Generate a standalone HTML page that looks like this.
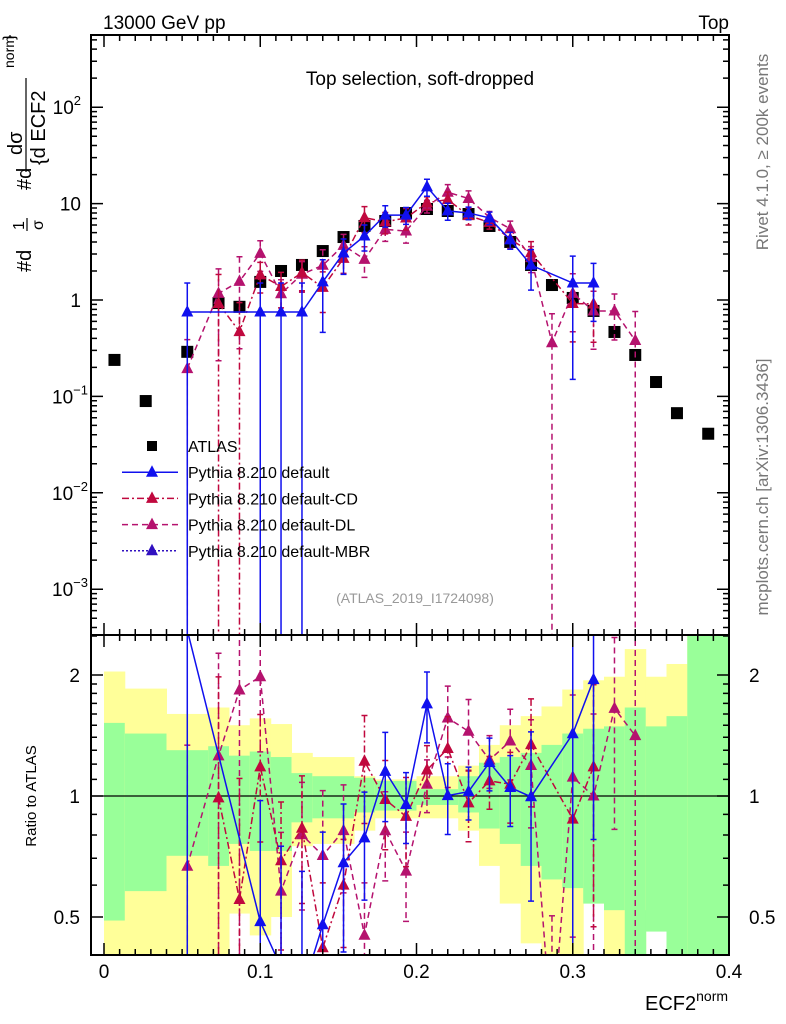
<!DOCTYPE html>
<html><head><meta charset="utf-8"><style>
html,body{margin:0;padding:0;background:#fff;overflow:hidden;width:786px;height:1024px;}
svg{display:block;font-family:"Liberation Sans",sans-serif;}
</style></head><body>
<svg id="chart" width="786" height="1024" viewBox="0 0 786 1024" xmlns="http://www.w3.org/2000/svg">
<defs>
<clipPath id="cm"><rect x="91" y="35" width="638" height="600"/></clipPath>
<clipPath id="cr"><rect x="91" y="635" width="638" height="320"/></clipPath>
</defs>
<rect width="786" height="1024" fill="#fff"/>
<g id="bands" clip-path="url(#cr)"></g>
<g id="main" clip-path="url(#cm)"></g>
<g id="ratio" clip-path="url(#cr)"></g>
<g id="axes"></g>
<text x="103" y="29" font-size="19">13000 GeV pp</text>
<text x="729" y="29" font-size="19" text-anchor="end">Top</text>
<text x="420" y="85" font-size="19" text-anchor="middle">Top selection, soft-dropped</text>
<text x="415" y="603" font-size="14" fill="#999" text-anchor="middle">(ATLAS_2019_I1724098)</text>
<text transform="translate(768,152) rotate(-90)" font-size="17" fill="#777" text-anchor="middle">Rivet 4.1.0, ≥ 200k events</text>
<text transform="translate(768,487) rotate(-90)" font-size="17" fill="#777" text-anchor="middle">mcplots.cern.ch [arXiv:1306.3436]</text>
<g font-size="20">
<text transform="translate(31,272) rotate(-90)">#d</text>
<text transform="translate(24,230) rotate(-90)" font-size="16">1</text>
<line x1="27" y1="231" x2="27" y2="218" stroke="#000" stroke-width="1.2"/>
<text transform="translate(43,230) rotate(-90)" font-size="16">σ</text>
<text transform="translate(31,190) rotate(-90)">#d</text>
<text transform="translate(22,155) rotate(-90)">dσ</text>
<line x1="26" y1="172" x2="26" y2="78" stroke="#000" stroke-width="1.2"/>
<text transform="translate(45,165) rotate(-90)">{d ECF2</text>
<text transform="translate(14,68) rotate(-90)" font-size="14">norm</text>
<text transform="translate(14,40) rotate(-90)" font-size="16">}</text>
</g>
<text transform="translate(36,796) rotate(-90)" font-size="15" text-anchor="middle">Ratio to ATLAS</text>
<text x="645" y="1010" font-size="20">ECF2<tspan font-size="14" dy="-9">norm</tspan></text>
<g id="legend" font-size="16"></g>
</svg>
<script>
const xs=[0.0067,0.0267,0.0533,0.0733,0.0867,0.1,0.1133,0.1267,0.14,0.1533,0.1667,0.18,0.1933,0.2067,0.22,0.2333,0.2467,0.26,0.2733,0.2867,0.3,0.3133,0.3267,0.34,0.3533,0.3667,0.3867];
const atlas=[0.239,0.0895,0.29,0.93,0.85,1.54,2.0,2.31,3.22,4.5,5.86,6.6,7.98,8.79,8.38,7.8,5.86,4.0,2.31,1.43,1.05,0.77,0.466,0.269,0.141,0.067,0.041];
const pyDef=[null,null,0.75,null,null,0.75,0.75,0.75,1.54,3.07,4.61,7.6,7.6,14.9,8.4,8.0,7.1,4.2,2.3,null,1.5,1.5,null,null,null,null,null];
const pyDefErr=[0,0,1,0,0,1,1,1,0.7,0.4,0.3,0.25,0.2,0.2,0.2,0.15,0.15,0.2,0.45,0,0.9,0.6,0,0,0,0,0];
const pyCD=[null,null,null,0.92,0.47,1.82,1.38,1.92,1.35,2.7,7.15,6.47,7.1,10.2,11.0,7.5,6.39,4.28,3.1,null,0.92,0.91,null,null,null,null,null];
const pyCDErr=[0,0,0,1,1,0.35,0.4,0.35,0.45,0.3,0.3,0.25,0.25,0.15,0.2,0.2,0.15,0.2,0.3,0,0.6,0.6,0,0,0,0,0];
const pyDL=[null,null,0.194,1.17,1.56,3.05,1.16,1.85,2.29,3.69,2.64,5.41,5.19,9.4,13.1,11.3,7.2,5.48,2.75,0.36,1.17,0.77,0.77,0.38,null,null,null];
const pyDLErr=[0,0,1,0.8,0.8,0.35,0.4,0.35,0.45,0.3,0.35,0.25,0.25,0.15,0.2,0.2,0.15,0.2,0.3,1,0.6,0.6,0.5,1,0,0,0];
const bandEdges=[0,0.0133,0.04,0.0667,0.08,0.0933,0.1067,0.12,0.1333,0.16,0.1733,0.2,0.2267,0.24,0.2533,0.2667,0.28,0.2933,0.3067,0.32,0.3333,0.3467,0.36,0.3733,0.4];
const yelHi=[2.04,1.85,1.60,1.66,1.50,1.56,1.51,1.28,1.25,1.12,1.10,1.12,1.19,1.34,1.50,1.58,1.67,1.84,1.94,1.98,2.32,1.98,2.13,3];
const yelLo=[0.4,0.4,0.4,0.4,0.51,0.45,0.50,0.75,0.76,0.82,0.88,0.88,0.82,0.67,0.54,0.43,0.4,0.4,0.54,0.4,0.4,0.52,0.4,0.4];
const greHi=[1.52,1.43,1.30,1.33,1.26,1.29,1.25,1.14,1.12,1.11,1.09,1.04,1.12,1.21,1.25,1.28,1.34,1.43,1.47,1.49,1.66,1.49,1.58,2.6];
const greLo=[0.49,0.58,0.71,0.67,0.76,0.73,0.73,0.86,0.88,0.91,0.92,0.95,0.91,0.83,0.76,0.67,0.62,0.59,0.54,0.52,0.4,0.46,0.4,0.4];
const xTicks=[0,0.1,0.2,0.3,0.4];
const xTickLabels=["0","0.1","0.2","0.3","0.4"];

const NS="http://www.w3.org/2000/svg";
const X=v=>104+v*1562.5;
const Y=v=>300-96.4*Math.log10(v);
const R=r=>796-402*Math.log10(r);
const clampY=(y,lo,hi)=>Math.max(lo,Math.min(hi,y));
function mk(tag,attrs,parent){const e=document.createElementNS(NS,tag);for(const k in attrs)e.setAttribute(k,attrs[k]);parent.appendChild(e);return e;}
const gB=document.getElementById('bands'),gM=document.getElementById('main'),gR=document.getElementById('ratio'),gA=document.getElementById('axes'),gL=document.getElementById('legend');

for(let i=0;i<bandEdges.length-1;i++){
  const x0=X(bandEdges[i]),x1=X(bandEdges[i+1]);
  const yh=clampY(R(yelHi[i]),635,955),yl=clampY(R(yelLo[i]),635,955);
  let r=mk('rect',{x:x0,y:yh,width:x1-x0+0.5,height:yl-yh,fill:'#ffff99'},gB);
  
  
  const gh=clampY(R(greHi[i]),635,955),gl=clampY(R(greLo[i]),635,955);
  r=mk('rect',{x:x0,y:gh,width:x1-x0+0.5,height:gl-gh,fill:'#99ff99'},gB);
  
  
}
let one=mk('line',{x1:91,x2:729,y1:R(1),y2:R(1),stroke:'#000','stroke-width':1.3},gR);



function tri(x,y,col,g,name){const p=mk('polygon',{points:`${x},${y-7} ${x-6},${y+4.5} ${x+6},${y+4.5}`,fill:col},g);
  
  }

function series(vals,errs,col,dash,name){
  for(const [g,fy,isR,top,bot] of [[gM,Y,false,30,640],[gR,R,true,630,960]]){
    const pts=[];
    vals.forEach((v,i)=>{if(v!=null){const val=isR?v/atlas[i]:v;pts.push([X(xs[i]),fy(val),val,errs[i]]);}});
    const ln=mk('polyline',{points:pts.map(p=>p[0]+','+clampY(p[1],top-300,bot+100)).join(' '),fill:'none',stroke:col,'stroke-width':1.5,'stroke-dasharray':dash},g);
    
    
    pts.forEach(p=>{
      const e=p[3];const yt=clampY(fy(p[2]*(1+e)),top,bot);const yb=e>=1?bot:clampY(fy(p[2]*(1-e)),top,bot);
      const eb=mk('line',{x1:p[0],x2:p[0],y1:yt,y2:yb,stroke:col,'stroke-width':1.5,'stroke-dasharray':dash},g);
      
      
      const c=mk('path',{d:`M${p[0]-3},${yt}H${p[0]+3}`+(e<1?`M${p[0]-3},${yb}H${p[0]+3}`:''),stroke:col,'stroke-width':1.5},g);
      
      
    });
    pts.forEach(p=>{if(p[1]>top-10&&p[1]<bot+10)tri(p[0],p[1],col,g,name+'-point');});
  }
}
atlas.forEach((v,i)=>{const s=mk('rect',{x:X(xs[i])-6,y:Y(v)-6,width:12,height:12,fill:'#000'},gM);
  
  });
series(pyDL,pyDLErr,'#b5126e','6,4','pythia-default-dl');
series(pyCD,pyCDErr,'#c0083e','7,3,2,3','pythia-default-cd');
series(pyDef,pyDefErr,'#1010ee','','pythia-default');

for(const [y0,h] of [[35,600],[635,320]]){
  const f=mk('rect',{x:91,y:y0,width:638,height:h,fill:'none',stroke:'#000','stroke-width':2},gA);
  
  
}
let d='';
for(let k=0;k<=40;k++){const x=X(k/100);const L=(k%10==0)?12:6;
  for(const [yt,yb] of [[35,635],[635,955]]){d+=`M${x},${yt}v${L}M${x},${yb}v${-L}`;}}
for(let e=-4;e<=2;e++)for(let m=1;m<10;m++){const y=Y(m*Math.pow(10,e));if(y<35||y>635)continue;const L=m==1?12:6;d+=`M91,${y}h${L}M729,${y}h${-L}`;}
[0.4,0.5,0.6,0.7,0.8,0.9,1,1.1,1.2,1.3,1.4,1.5,1.6,1.7,1.8,1.9,2,2.5].forEach(r=>{const y=R(r);if(y<635||y>955)return;const L=(r==0.5||r==1||r==2)?12:6;d+=`M91,${y}h${L}M729,${y}h${-L}`;});
const tk=mk('path',{d:d,stroke:'#000','stroke-width':1.5,fill:'none'},gA);


xTicks.forEach((v,i)=>{const t=mk('text',{x:X(v),y:978,'font-size':19,'text-anchor':'middle'},gA);t.textContent=xTickLabels[i];
  
  });
const yLabs=[[2,'10','2'],[1,'10',''],[0,'1',''],[-1,'10','−1'],[-2,'10','−2'],[-3,'10','−3']];
yLabs.forEach(l=>{const t=mk('text',{x:81,y:Y(Math.pow(10,l[0]))+7,'font-size':19,'text-anchor':'end'},gA);
  
  
  if(l[2]){t.setAttribute('x',l[2].length>1?88:81);t.textContent=l[1];const s=mk('tspan',{'font-size':13,dy:-9},t);s.textContent=l[2];}else t.textContent=l[1];});
[[2,'2'],[1,'1'],[0.5,'0.5']].forEach(l=>{
  let t=mk('text',{x:80,y:R(l[0])+7,'font-size':19,'text-anchor':'end'},gA);t.textContent=l[1];
  
  
  t=mk('text',{x:749,y:R(l[0])+7,'font-size':19},gA);t.textContent=l[1];
  
  });

const leg=[['ATLAS','#000','',0],['Pythia 8.210 default','#1010ee','',1],['Pythia 8.210 default-CD','#c0083e','7,3,2,3',1],['Pythia 8.210 default-DL','#b5126e','6,4',1],['Pythia 8.210 default-MBR','#3010c0','2,2',1]];
leg.forEach((l,i)=>{const y=446+i*26.2;
  if(l[3]){const ln=mk('line',{x1:122,x2:178,y1:y,y2:y,stroke:l[1],'stroke-width':1.5,'stroke-dasharray':l[2]},gL);
    
    
    tri(152,y,l[1],gL,'legend-marker');}
  else{const s=mk('rect',{x:147,y:y-5,width:10,height:10,fill:'#000'},gL);
    
    }
  const t=mk('text',{x:188,y:y+6},gL);t.textContent=l[0];
  
  });
</script>
</body></html>
